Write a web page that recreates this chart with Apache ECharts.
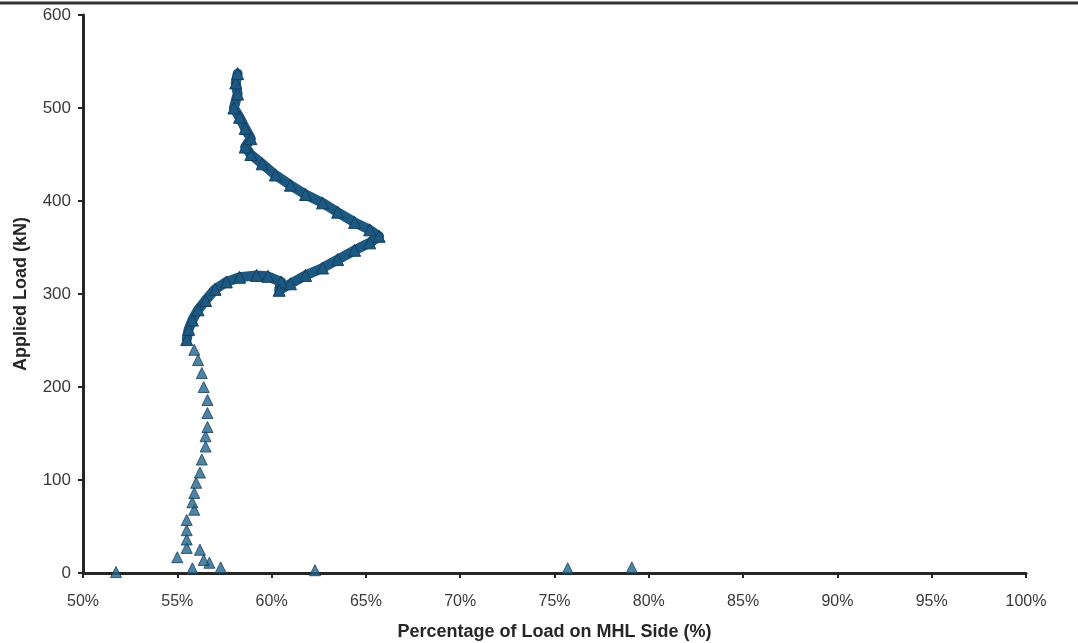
<!DOCTYPE html>
<html>
<head>
<meta charset="utf-8">
<script src="https://cdn.jsdelivr.net/npm/echarts@6/dist/echarts.min.js"></script>
<style>
  html, body { margin: 0; padding: 0; background: #ffffff; }
  #chart { width: 1078px; height: 643px; }
</style>
</head>
<body>
<div id="chart"></div>
<script>
// Share of load on the MHL side (%) vs applied load (kN)

// Early readings near zero load (scattered triangles)
const earlyPct  = [51.75, 55.8, 57.3, 56.7, 56.4, 56.2, 55.0, 55.5, 55.5, 55.5, 55.5, 55.9, 55.8, 55.9, 56.0, 56.2, 56.3, 56.5, 56.5, 56.6, 56.6, 56.6, 56.4, 56.3, 56.1, 55.9, 62.3, 75.7, 79.1];
const earlyLoad = [1,     5,    6,    11,   14,   25,   17,   27,   36,   46,   57,   68,   76,   86,   97,   108,  122,  136,  147,  157,  172,  186,  200,  215,  229,  240,  3,    5,    6];

// Continuous loading path above ~250 kN
const pathPct  = [55.5, 55.6, 55.8, 56.1, 56.5, 57.0, 57.6, 58.3, 59.2, 59.8, 60.5, 60.4, 61.0, 61.8, 62.7, 63.5, 64.4, 65.2, 65.7, 65.2, 64.4, 63.5, 62.7, 61.8, 61.0, 60.2, 59.5, 58.9, 58.6, 58.9, 58.6, 58.3, 58.0, 58.2, 58.1, 58.2];
const pathLoad = [251,  262,  272,  283,  293,  305,  313,  318,  320,  319,  313,  304,  311,  320,  328,  337,  347,  355,  362,  369,  377,  388,  398,  407,  417,  428,  440,  450,  458,  467,  478,  490,  500,  515,  527,  537];

const xTicks = { min: 50, max: 100, step: 5 };
const yTicks = { min: 0, max: 600, step: 100 };

const zip = (xs, ys) => xs.map((x, i) => [x, ys[i]]);

const markColor = '#1d5880';
const markEdge = '#143f60';
const inkColor = '#262626';
const labelColor = '#3a3a3a';
const fontFamily = 'Liberation Sans, Arial, sans-serif';

const chart = echarts.init(document.getElementById('chart'), null, { renderer: 'canvas' });

chart.setOption({
  backgroundColor: '#ffffff',
  animation: false,
  graphic: [
    {
      type: 'line',
      shape: { x1: 0, y1: 3, x2: 1078, y2: 3 },
      style: { stroke: '#333333', lineWidth: 3 }
    }
  ],
  grid: { left: 83, right: 52, top: 15, bottom: 70, containLabel: false, outerBoundsMode: 'none' },
  xAxis: {
    type: 'value',
    min: xTicks.min,
    max: xTicks.max,
    interval: xTicks.step,
    name: 'Percentage of Load on MHL Side (%)',
    nameLocation: 'middle',
    nameGap: 50,
    nameTextStyle: { fontFamily, fontSize: 18, fontWeight: 'bold', color: inkColor },
    axisLine: { show: true, lineStyle: { color: inkColor, width: 3 } },
    axisTick: { show: true, inside: false, length: 5, lineStyle: { color: inkColor, width: 2 } },
    axisLabel: { formatter: '{value}%', margin: 21, fontFamily, fontSize: 16, color: labelColor },
    splitLine: { show: false }
  },
  yAxis: {
    type: 'value',
    min: yTicks.min,
    max: yTicks.max,
    interval: yTicks.step,
    name: 'Applied Load (kN)',
    nameLocation: 'middle',
    nameGap: 53,
    nameRotate: 90,
    nameTextStyle: { fontFamily, fontSize: 18, fontWeight: 'bold', color: inkColor },
    axisLine: { show: true, lineStyle: { color: inkColor, width: 3 } },
    axisTick: { show: true, inside: false, length: 5, lineStyle: { color: inkColor, width: 2 } },
    axisLabel: { margin: 12, fontFamily, fontSize: 17, color: labelColor },
    splitLine: { show: false }
  },
  series: [
    {
      name: 'Early readings',
      type: 'scatter',
      data: zip(earlyPct, earlyLoad),
      symbol: 'triangle',
      symbolSize: 11,
      itemStyle: { color: '#24658a', borderColor: markEdge, borderWidth: 1 },
      z: 3
    },
    {
      name: 'Loading path',
      type: 'line',
      data: zip(pathPct, pathLoad),
      symbol: 'triangle',
      symbolSize: 12,
      showAllSymbol: true,
      smooth: false,
      lineStyle: { color: markColor, width: 10, join: 'round', cap: 'round' },
      itemStyle: { color: markColor, borderColor: markEdge, borderWidth: 1 },
      z: 3
    }
  ]
});
</script>
</body>
</html>
